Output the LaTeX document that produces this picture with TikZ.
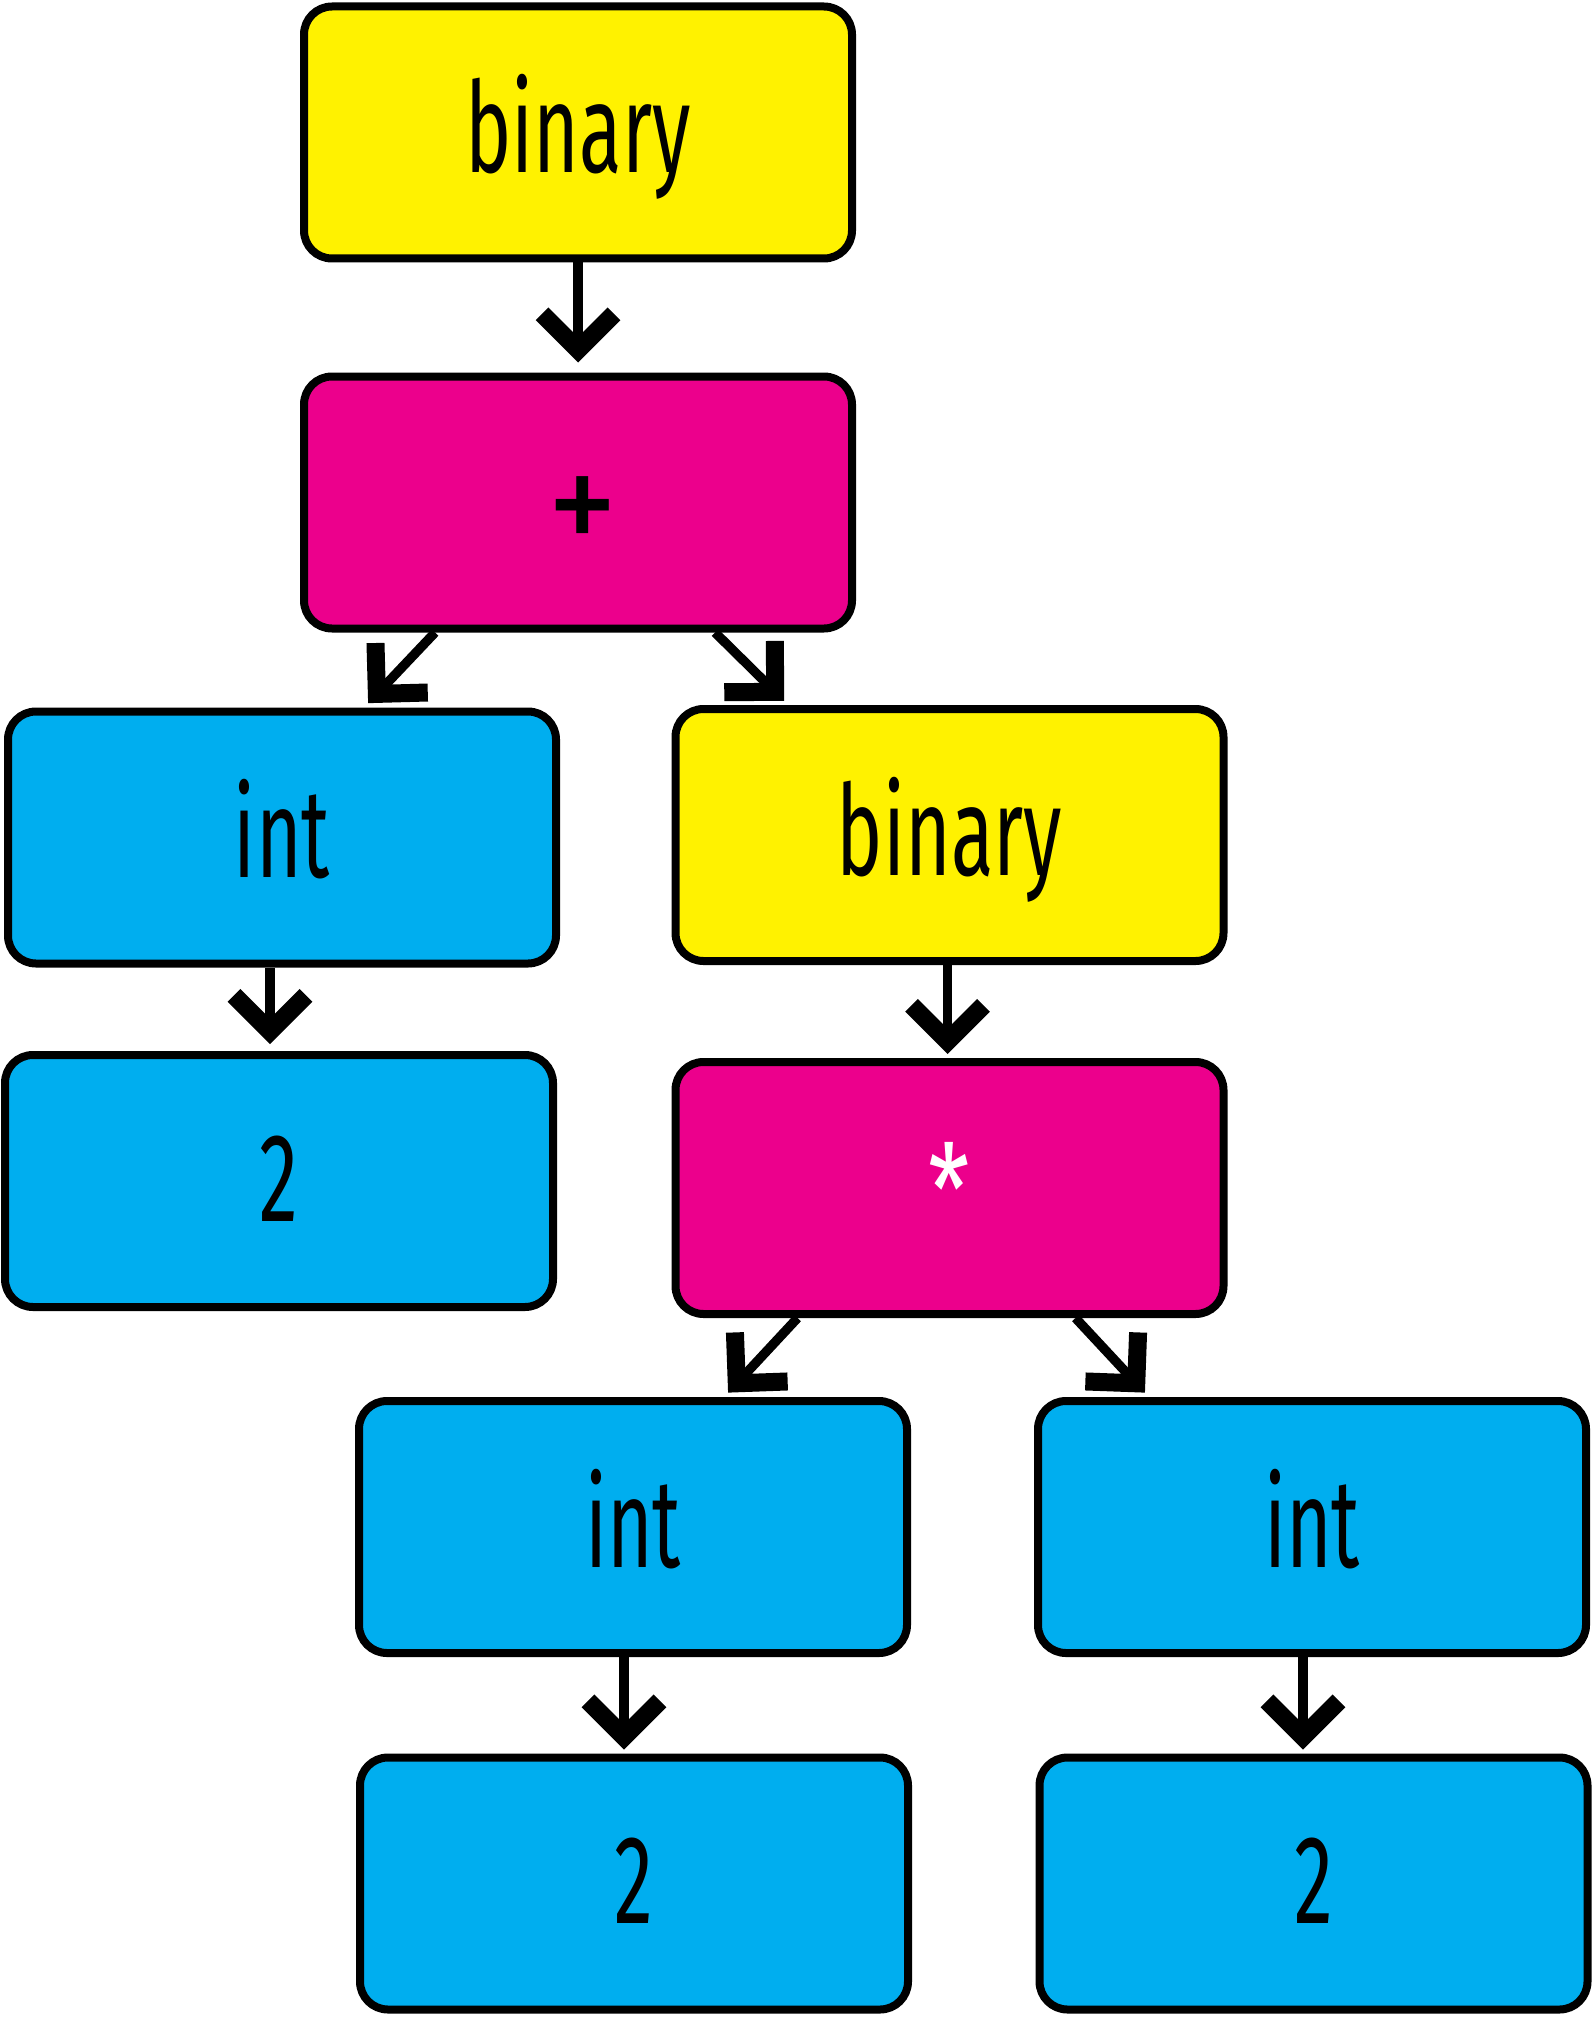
\documentclass[tikz,border=0pt]{standalone}
\usepackage{fontspec}
\newfontfamily\labelfont[FakeStretch=0.62]{Fira Sans}
\newfontfamily\starfont[FakeStretch=0.75]{Fira Sans}
\newfontfamily\opfont[FakeStretch=0.93]{Fira Sans}
\usetikzlibrary{arrows.meta}
\definecolor{procyellow}{HTML}{FFF200}
\definecolor{procmagenta}{HTML}{EC008C}
\definecolor{proccyan}{HTML}{00AEEF}

\begin{document}
\begin{tikzpicture}[x=0.5pt,y=-0.5pt,
  box/.style={draw=black, line width=4pt, rounded corners=14pt,
    minimum width=274pt, minimum height=126pt, inner sep=0pt},
  word/.style={font=\labelfont\fontsize{63}{63}\selectfont,
    text height=50pt, text depth=10pt},
  binbox/.style={box, word, fill=procyellow},
  opbox/.style={box, fill=procmagenta},
  valbox/.style={box, word, fill=proccyan},
  conn/.style={draw=black, line width=4.7pt,
    -{Straight Barb[length=18pt, width=36pt, line width=9pt]}},
]
\useasboundingbox (0,0) rectangle (1594,2017);

% tree nodes
\node[binbox] (top)   at (578,132.5)  {binary};
\node[opbox, font=\opfont\fontsize{76}{76}\selectfont,
      text height=52.6pt, text depth=0pt]
              (plus)  at (578,502.5)  {\hspace*{5pt}+};
\node[valbox] (intA)  at (282,837.5)  {int};
\node[binbox] (inner) at (949.5,835)  {binary};
\node[valbox] (twoA)  at (279,1181)   {2};
\node[opbox, font=\starfont\fontsize{63}{63}\selectfont,
      text height=57.8pt, text depth=10pt, text=white]
              (times) at (949.5,1188) {*};
\node[valbox] (intB)  at (633,1527)   {int};
\node[valbox] (intC)  at (1312,1527)  {int};
\node[valbox] (twoB)  at (634,1883.5) {2};
\node[valbox] (twoC)  at (1313.5,1883.5) {2};

% edges
\draw[conn, shorten >=5pt] (top.south) -- (plus.north);
\draw[conn, shorten >=3pt] ([xshift=-71.5pt]plus.south) -- ([xshift=41pt]intA.north);
\draw[conn, shorten >=3pt] ([xshift=68.5pt]plus.south) -- ([xshift=-80.5pt]inner.north);
\draw[conn, shorten >=3.5pt] ([xshift=-6pt]intA.south) -- ([xshift=-6pt]intA.south |- twoA.north);
\draw[conn, shorten >=2pt] ([xshift=-1pt]inner.south) -- ([xshift=-1pt]inner.south |- times.north);
\draw[conn, shorten >=3pt] ([xshift=-76pt]times.south) -- ([xshift=45.5pt]intB.north);
\draw[conn, shorten >=3pt] ([xshift=63pt]times.south) -- ([xshift=-81.5pt]intC.north);
\draw[conn, shorten >=2pt] ([xshift=-4.5pt]intB.south) -- ([xshift=-4.5pt]intB.south |- twoB.north);
\draw[conn, shorten >=2pt] ([xshift=-4.5pt]intC.south) -- ([xshift=-4.5pt]intC.south |- twoC.north);
\end{tikzpicture}
\end{document}
